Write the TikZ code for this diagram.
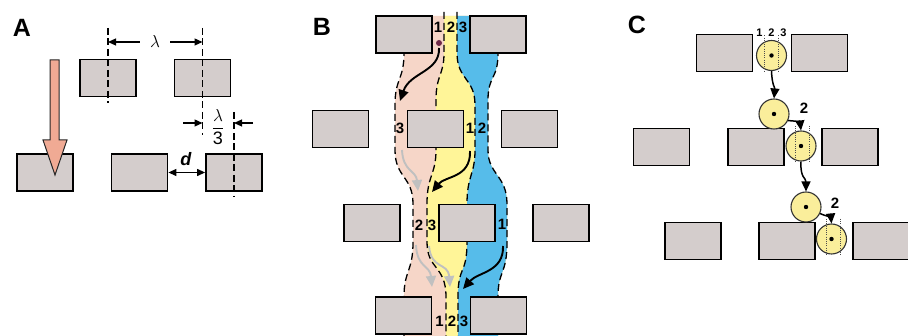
\documentclass[tikz,border=0pt]{standalone}
\usepackage{fontspec}
\setmainfont{Liberation Sans}
\usepackage{amsmath}
\usepackage{tikz}
\usetikzlibrary{
    positioning,
    arrows.meta,
    calc
}
\definecolor{plateGray}{RGB}{212, 205, 204}
\definecolor{flowPink}{RGB}{246, 214, 200}
\definecolor{flowYellow}{RGB}{255, 245, 152}
\definecolor{flowBlue}{RGB}{86, 188, 234}
\definecolor{arrowSalmon}{RGB}{240, 170, 148}
\definecolor{dotPurple}{RGB}{112, 42, 72}
\definecolor{ballYellow}{RGB}{250, 238, 155}
\definecolor{ghostGray}{RGB}{192, 192, 192}

\newcommand{\bndL}{(404,16) -- (404,53) .. controls (404,80) and (395,78) .. (395,105) -- (395,150)
    .. controls (395,178) and (413,176) .. (413,204) -- (413,242)
    .. controls (413,272) and (404,270) .. (404,297) -- (404,336)}
\newcommand{\bndP}{(444,16) -- (444,53) .. controls (444,75) and (436,75) .. (436,100) -- (436,150)
    .. controls (436,175) and (427,175) .. (427,204) -- (427,242)
    .. controls (427,270) and (446,265) .. (446,297) -- (446,336)}
\newcommand{\bndQ}{(457,16) -- (457,53) .. controls (457,80) and (475,78) .. (475,105) -- (475,150)
    .. controls (475,175) and (467,175) .. (467,204) -- (467,242)
    .. controls (467,275) and (458,265) .. (458,297) -- (458,336)}
\newcommand{\bndR}{(498,16) -- (498,53) .. controls (498,80) and (488,75) .. (488,100) -- (488,150)
    .. controls (488,175) and (507,175) .. (507,204) -- (507,242)
    .. controls (507,275) and (498,270) .. (498,297) -- (498,336)}

\begin{document}
\begin{tikzpicture}[x=1pt, y=-1pt,
    plate/.style={draw, line width=1.8pt, fill=plateGray, minimum width=56pt, minimum height=37pt, inner sep=0pt},
    axisline/.style={line width=1.3pt, dash pattern=on 7pt off 3.5pt},
    flowline/.style={line width=1.3pt, dash pattern=on 7pt off 4pt},
    dim/.style={line width=1.2pt, -{Triangle[length=8pt,width=7pt]}},
    dimboth/.style={line width=1.2pt, {Triangle[length=8pt,width=7pt]}-{Triangle[length=8pt,width=7pt]}},
    flowarrow/.style={line width=1.9pt, -{Triangle[length=11pt,width=10pt]}},
    ghost/.style={flowarrow, ghostGray},
    ball/.style={circle, draw=black!80, line width=1.1pt, fill=ballYellow, minimum size=30pt, inner sep=0pt},
    ballarrow/.style={line width=1.5pt, -{Triangle[length=10pt,width=9pt]}},
    guide/.style={black!70, line width=0.9pt, dash pattern=on 1pt off 1.2pt},
    lane/.style={font=\fontsize{15}{15}\selectfont\bfseries, inner sep=0pt},
    tag/.style={font=\fontsize{11}{11}\selectfont\bfseries, inner sep=0pt},
    panel/.style={font=\fontsize{25}{25}\selectfont\bfseries, inner sep=0pt}]
    \useasboundingbox (0,0) rectangle (908,336);

    \node[panel] (lblA) at (22,28) {A};
    \node[panel] (lblB) at (322,27) {B};
    \node[panel] (lblC) at (637,25) {C};

    % A
    \node[plate] (a1) at (108,78) {};
    \node[plate] (a2) at (202.5,78) {};
    \foreach \x [count=\i from 3] in {45,139.5,234}
        \node[plate] (a\i) at (\x,172.5) {};
    \draw[axisline] (108,28) -- (108,103);
    \draw[axisline] (202.5,28) -- (202.5,135);
    \draw[axisline] (234,112) -- (234,197);

    \node[inner xsep=10pt] (lam) at (155,42) {\fontsize{18}{18}\selectfont$\lambda$};
    \coordinate (lamL) at (108,42);
    \coordinate (lamR) at (202.5,42);
    \draw[dim] (lam) -- (lamL);
    \draw[dim] (lam) -- (lamR);

    \node (third) at (218,127) {\fontsize{18}{18}\selectfont$\dfrac{\lambda}{\text{3}}$};
    \coordinate (thL) at (183,123); \coordinate (ax2) at (202.5,123);
    \coordinate (thR) at (253,123); \coordinate (ax5) at (234,123);
    \draw[dim] (thL) -- (ax2);
    \draw[dim] (thR) -- (ax5);

    \draw[dimboth] (a4.east) -- (a5.west);
    \node (dlabel) at (186,159) {\fontsize{18}{18}\selectfont\textbf{\textit{d}}};

    \draw[fill=arrowSalmon, draw=black!85, line width=1pt]
        (50,60) -- (59,60) -- (59,140) -- (67,140) -- (55,175) -- (43,140) -- (50,140) -- cycle;

    % B
    \begin{scope}
        \clip \bndR -- (300,336) -- (300,16) -- cycle;
        \fill[flowPink] \bndL -- (600,336) -- (600,16) -- cycle;
        \fill[flowYellow] \bndP -- (600,336) -- (600,16) -- cycle;
        \fill[flowBlue] \bndQ -- (600,336) -- (600,16) -- cycle;
    \end{scope}
    \draw[flowline] \bndL;
    \draw[flowline] (444,12) -- \bndP;
    \draw[flowline] (457,12) -- \bndQ;
    \draw[flowline] \bndR;

    \foreach \x [count=\i] in {404,498}
        \node[plate] (b1\i) at (\x,34.5) {};
    \foreach \x [count=\i] in {340.5,435.5,529.5}
        \node[plate] (b2\i) at (\x,129) {};
    \foreach \x [count=\i] in {372,467,561}
        \node[plate] (b3\i) at (\x,223) {};
    \foreach \x [count=\i] in {403.5,498.5}
        \node[plate] (b4\i) at (\x,315.5) {};

    \foreach \t/\x/\y [count=\i] in {1/438/27.5,2/451/27.5,3/463/27.5,
                                     3/400/128,1/470/128,2/482/128,
                                     2/419/225,3/432/225,1/502/224,
                                     1/439.5/321,2/452/321,3/464/321}
        \node[lane] (ln\i) at (\x,\y) {\t};

    \coordinate (seed) at (439,43);
    \fill[dotPurple] (seed) circle (3);

    \coordinate (g1s) at (402,150); \coordinate (g1e) at (418,191);
    \coordinate (g2s) at (416,245); \coordinate (g2e) at (432,287);
    \coordinate (g3s) at (429,246); \coordinate (g3e) at (450,287);
    \draw[ghost] (g1s) .. controls (403,172) and (416,170) .. (g1e);
    \draw[ghost] (g2s) .. controls (417,268) and (430,265) .. (g2e);
    \draw[ghost] (g3s) .. controls (431,270) and (448,262) .. (g3e);

    \coordinate (s1) at (439,48);  \coordinate (e1) at (400,101);
    \coordinate (s2) at (470,151); \coordinate (e2) at (432,192);
    \coordinate (s3) at (503,246); \coordinate (e3) at (463,289);
    \draw[flowarrow] (s1) .. controls (440,72) and (410,72) .. (e1);
    \draw[flowarrow] (s2) .. controls (471,178) and (445,176) .. (e2);
    \draw[flowarrow] (s3) .. controls (504,272) and (478,272) .. (e3);

    % C
    \foreach \x [count=\i] in {724.5,819.5}
        \node[plate] (c1\i) at (\x,53) {};
    \foreach \x [count=\i] in {661.5,756,850}
        \node[plate] (c2\i) at (\x,147) {};
    \foreach \x [count=\i] in {693,787,881}
        \node[plate] (c3\i) at (\x,241) {};

    \node[ball] (c1) at (771.5,55.5) {};
    \node[ball] (c2) at (774,114) {};
    \node[ball] (c3) at (801,146) {};
    \node[ball] (c4) at (806,207) {};
    \node[ball] (c5) at (831.5,239) {};

    \foreach \b/\lo/\hi in {c1/-7/7, c3/-6/8, c5/-5/9}
        \draw[guide] ($(\b)+(\lo,-20)$) -- ($(\b)+(\lo,16)$)
                     ($(\b)+(\hi,-20)$) -- ($(\b)+(\hi,16)$);
    \foreach \b in {c1,c2,c3,c4,c5}
        \fill (\b) circle (2.2);

    \node[tag] (n1) at (759.5,33) {1};
    \node[tag] (n2) at (771.5,33) {2};
    \node[tag] (n3) at (783.5,33) {3};
    \node[lane] (k1) at (804,108) {2};
    \node[lane] (k2) at (835,203) {2};

    \draw[ballarrow] (c1.south) .. controls (772,85) and (775,88) .. (c2.north);
    \draw[ballarrow] (c2.-25) .. controls (795,121) and (800,122) .. (c3.north);
    \draw[ballarrow] (c3.south) .. controls (800,178) and (806,178) .. (c4.north);
    \draw[ballarrow] (c4.-25) .. controls (826,216) and (831,218) .. (c5.north);
\end{tikzpicture}
\end{document}
